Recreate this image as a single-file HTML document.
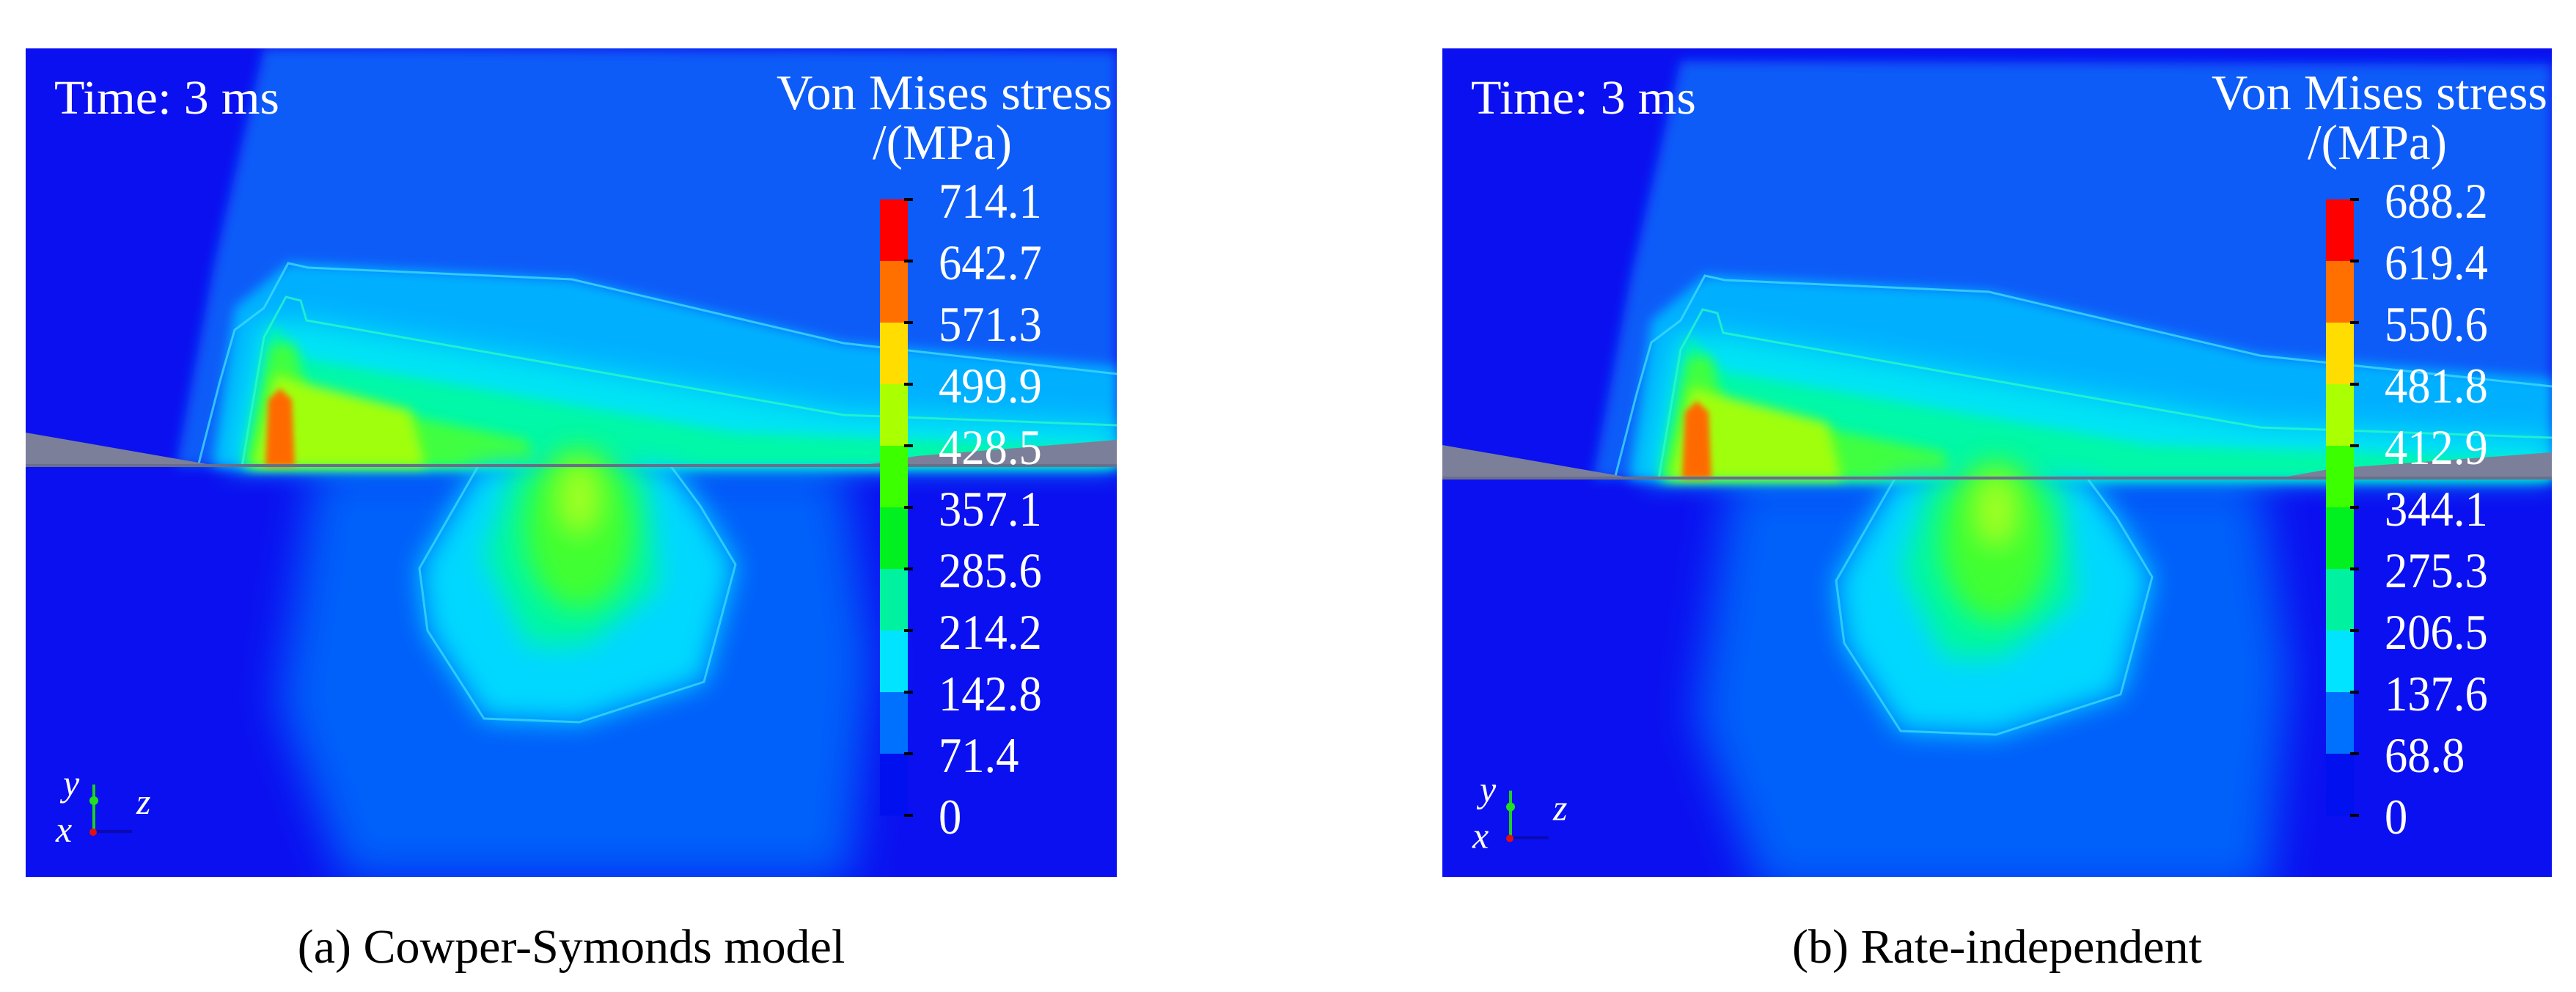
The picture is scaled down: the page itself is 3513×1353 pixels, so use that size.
<!DOCTYPE html>
<html><head><meta charset="utf-8"><style>
html,body{margin:0;padding:0;background:#fff;}
svg{display:block;}
text{font-family:"Liberation Serif","DejaVu Serif",serif;}
</style></head><body>
<svg id="fig" width="3513" height="1353" viewBox="0 0 3513 1353" xmlns="http://www.w3.org/2000/svg">
<defs>
<filter id="b30" x="-50%" y="-50%" width="200%" height="200%"><feGaussianBlur stdDeviation="30"/></filter>
<filter id="b18" x="-50%" y="-50%" width="200%" height="200%"><feGaussianBlur stdDeviation="18"/></filter>
<filter id="b8" x="-50%" y="-50%" width="200%" height="200%"><feGaussianBlur stdDeviation="8"/></filter>
<filter id="b4" x="-50%" y="-50%" width="200%" height="200%"><feGaussianBlur stdDeviation="4"/></filter>
<clipPath id="clipA"><rect x="35" y="66" width="1488" height="1130"/></clipPath>
<clipPath id="clipB"><rect x="1967" y="66" width="1513" height="1130"/></clipPath>
</defs>
</svg>
<script>
// colorbar data
const ticksA = ["714.1","642.7","571.3","499.9","428.5","357.1","285.6","214.2","142.8","71.4","0"];
const ticksB = ["688.2","619.4","550.6","481.8","412.9","344.1","275.3","206.5","137.6","68.8","0"];
const binColors = ["#ff0000","#ff7000","#ffdd00","#aaff00","#3cff00","#00f020","#00f2a0","#00e4ff","#0070ff","#0010ee"];

const NS="http://www.w3.org/2000/svg";
const FONT='"Liberation Serif", "DejaVu Serif", serif';
const svg=document.getElementById('fig');
function mk(tag,attrs,parent){const e=document.createElementNS(NS,tag);for(const k in attrs)e.setAttribute(k,attrs[k]);if(tag==='text')e.setAttribute('font-family',FONT);(parent||svg).appendChild(e);return e;}

function panel(id, px, pw, dy, ticks, caption, cbx, clip){
  const g=mk('g',{'clip-path':'url(#'+clip+')'});
  
  
  mk('rect',{x:px,y:66,width:pw,height:1130,fill:'#0a10f0'},g);
  const f=mk('g',{transform:'translate('+(px-35)+','+dy+')'},g);
  
  
  const W=35+pw;
  mk('polygon',{points:`360,66 ${W},70 ${W},636 240,636 292,360`,fill:'#0a5cf8',filter:'url(#b8)'},f);
  mk('polygon',{points:`430,636 1150,636 1190,900 1160,1200 470,1200 380,960`,fill:'#0560fa',filter:'url(#b30)'},f);
  mk('polygon',{points:`290,636 320,420 393,359 780,381 1150,468 ${W},500 ${W},636`,fill:'#00b0ff',filter:'url(#b8)'},f);
  mk('polygon',{points:`310,636 350,440 418,437 1150,560 ${W},580 ${W},636`,fill:'#00e4f4',filter:'url(#b18)'},f);
  mk('polygon',{points:`330,636 370,440 418,490 1000,590 ${W},610 ${W},636`,fill:'#00f8a8',filter:'url(#b8)'},f);
  mk('polygon',{points:`335,636 370,470 400,470 420,540 720,600 730,636`,fill:'#40ff40',filter:'url(#b8)'},f);
  mk('polygon',{points:`345,636 375,510 405,520 560,560 580,636`,fill:'#a0ff10',filter:'url(#b8)'},f);
  mk('polygon',{points:`362,636 366,545 382,530 398,545 402,636`,fill:'#ff6a00',filter:'url(#b4)'},f);
  mk('polyline',{points:`270,636 300,520 320,450 360,420 393,359 420,365 780,381 1150,468 ${W},510`,fill:'none',stroke:'#40d8ff','stroke-width':3,opacity:0.8},f);
  mk('polyline',{points:`330,636 360,460 390,405 410,410 418,437 1150,566 ${W},580`,fill:'none',stroke:'#30ffc0','stroke-width':3,opacity:0.7},f);
  mk('polygon',{points:`652,636 572,775 583,860 660,980 790,985 960,930 1003,770 955,690 915,636`,fill:'#00d8ff',filter:'url(#b18)'},f);
  mk('polygon',{points:`700,636 660,760 720,880 800,880 900,800 880,636`,fill:'#00f8a0',filter:'url(#b18)'},f);
  mk('ellipse',{cx:790,cy:720,rx:75,ry:110,fill:'#40ff30',filter:'url(#b18)'},f);
  mk('ellipse',{cx:790,cy:680,rx:30,ry:50,fill:'#a0ff20',filter:'url(#b18)'},f);
  mk('polyline',{points:`652,636 572,775 583,860 660,980 790,985 960,930 1003,770 955,690 915,636`,fill:'none',stroke:'#40e0ff','stroke-width':3,opacity:0.7},f);
  mk('polygon',{points:`35,590 300,636 35,636`,fill:'#7b7f9a'},f);
  mk('polygon',{points:`1170,636 1250,622 ${W},600 ${W},636`,fill:'#7b7f9a'},f);
  mk('rect',{x:35,y:633,width:pw,height:4,fill:'#6a6e8a'},f);
  const t1=mk('text',{x:px+39,y:155,fill:'#fff','font-size':66,textLength:307,lengthAdjust:'spacingAndGlyphs'});
  t1.textContent='Time: 3 ms';
  
  
  const t2=mk('text',{x:px+pw-464,y:149,fill:'#fff','font-size':68,textLength:458,lengthAdjust:'spacingAndGlyphs'});
  t2.textContent='Von Mises stress';
  
  
  const t3=mk('text',{x:px+pw-333,y:217,fill:'#fff','font-size':68,textLength:190,lengthAdjust:'spacingAndGlyphs'});
  t3.textContent='/(MPa)';
  
  
  const top=272, bot=1112, n=ticks.length-1, step=(bot-top)/n;
  const cb=mk('g',{},g);
  
  
  for(let i=0;i<n;i++){
    const r=mk('rect',{x:cbx,y:top+i*step,width:38,height:step+0.5,fill:binColors[i]},cb);
    
    
  }
  ticks.forEach((t,i)=>{
    const y=top+i*step;
    mk('rect',{x:cbx+33,y:y-2,width:12,height:4,fill:'#000'},cb);
    const tx=mk('text',{x:cbx+80,y:y+25,fill:'#fff','font-size':68,transform:`translate(${cbx+80},0) scale(0.92,1) translate(${-(cbx+80)},0)`},cb);
    tx.textContent=t;
    
    
  });
  const tr=mk('g',{transform:'translate('+(px-35)+','+(dy/2)+')'},g);
  
  
  mk('line',{x1:128,y1:1070,x2:128,y2:1135,stroke:'#20d020','stroke-width':4},tr);
  mk('circle',{cx:128,cy:1092,r:6,fill:'#20e020'},tr);
  mk('line',{x1:128,y1:1134,x2:180,y2:1134,stroke:'#0a0ab0','stroke-width':4},tr);
  mk('circle',{cx:127,cy:1135,r:5,fill:'#e01010'},tr);
  [['y',86,1085],['z',186,1110],['x',76,1148]].forEach(a=>{
    const e=mk('text',{x:a[1],y:a[2],fill:'#fff','font-size':50,'font-style':'italic'},tr);
    e.textContent=a[0];
  });
  const c=mk('text',{x:px+pw/2,y:1313,fill:'#000','font-size':66,'text-anchor':'middle'});
  c.textContent=caption;
  
  
}
panel('panel-a',35,1488,0,ticksA,'(a) Cowper-Symonds model',1200,'clipA');
panel('panel-b',1967,1513,17,ticksB,'(b) Rate-independent',3172,'clipB');
</script>
</body></html>
